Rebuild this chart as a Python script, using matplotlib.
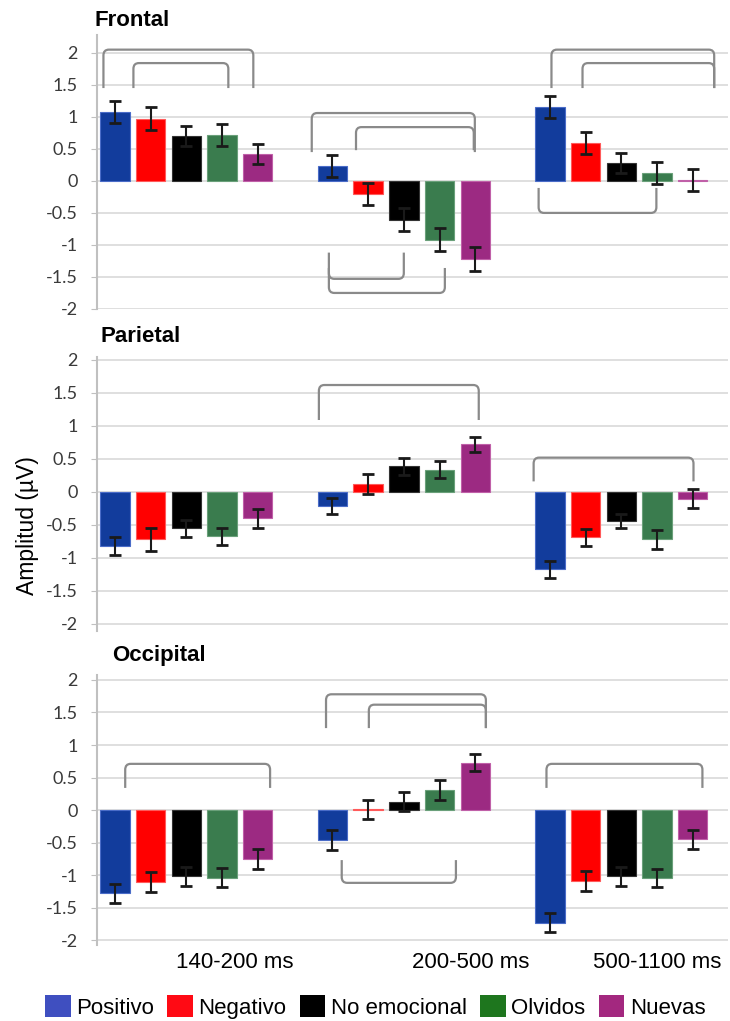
import matplotlib
matplotlib.use('Agg')
import matplotlib.pyplot as plt
import numpy as np
from matplotlib.patches import Patch, PathPatch
from matplotlib.path import Path

plt.rcParams['font.family'] = ['Liberation Sans', 'DejaVu Sans']

# Ventanas temporales y condiciones
ventanas = ['140-200 ms', '200-500 ms', '500-1100 ms']
condiciones = ['Positivo', 'Negativo', 'No emocional', 'Olvidos', 'Nuevas']
regiones = ['Frontal', 'Parietal', 'Occipital']

# Amplitud media (µV): una fila por condición, una columna por ventana
frontal = [[1.08, 0.23, 1.16],
           [0.97, -0.21, 0.59],
           [0.70, -0.61, 0.28],
           [0.72, -0.92, 0.12],
           [0.42, -1.22, 0.02]]
frontal_err = [[0.17, 0.17, 0.17],
               [0.18, 0.17, 0.17],
               [0.16, 0.18, 0.16],
               [0.17, 0.18, 0.17],
               [0.15, 0.19, 0.17]]

parietal = [[-0.82, -0.21, -1.17],
            [-0.72, 0.12, -0.69],
            [-0.55, 0.39, -0.44],
            [-0.67, 0.34, -0.72],
            [-0.40, 0.72, -0.10]]
parietal_err = [[0.14, 0.12, 0.13],
                [0.17, 0.15, 0.13],
                [0.13, 0.13, 0.11],
                [0.13, 0.13, 0.14],
                [0.14, 0.12, 0.14]]

occipital = [[-1.28, -0.46, -1.73],
             [-1.11, 0.01, -1.09],
             [-1.02, 0.13, -1.02],
             [-1.04, 0.31, -1.05],
             [-0.75, 0.73, -0.45]]
occipital_err = [[0.15, 0.15, 0.15],
                 [0.15, 0.15, 0.15],
                 [0.15, 0.15, 0.15],
                 [0.15, 0.15, 0.14],
                 [0.15, 0.13, 0.15]]

# Corchetes de significación: (ventana, barra inicio, barra fin, y línea, y patas)
corchetes_frontal = [(0, -0.32, 3.88, 2.05, 1.45),
                     (0, 0.52, 3.18, 1.84, 1.45),
                     (1, -0.58, 3.99, 1.06, 0.45),
                     (1, 0.66, 3.96, 0.84, 0.48),
                     (1, -0.10, 2.00, -1.53, -1.12),
                     (1, -0.10, 3.15, -1.75, -1.36),
                     (2, 0.04, 4.60, 2.05, 1.45),
                     (2, 0.91, 4.60, 1.84, 1.45),
                     (2, -0.32, 2.98, -0.50, -0.11)]
corchetes_parietal = [(1, -0.38, 4.10, 1.62, 1.09),
                      (2, -0.46, 4.02, 0.52, 0.16)]
corchetes_occipital = [(0, 0.29, 4.35, 0.71, 0.34),
                       (1, -0.18, 4.30, 1.78, 1.26),
                       (1, 1.02, 4.30, 1.62, 1.26),
                       (1, 0.26, 3.46, -1.12, -0.77),
                       (2, -0.10, 4.27, 0.71, 0.34)]

colores = ['#123c9c', '#ff0000', '#000000', '#3a7c4e', '#9c2a82']
bordes = ['#4a6cc8', '#ff5a5a', '#333333', '#6aa07a', '#c060a8']
colores_leyenda = ['#3f4fc0', '#ff0a14', '#000000', '#1e761e', '#a3287f']

paso = 0.164
ancho = 0.135


def corchete(ax, g, k0, k1, y_lin, y_pata):
    x0 = g + (k0 - 2) * paso
    x1 = g + (k1 - 2) * paso
    dx = 0.025
    dy = 0.09 * np.sign(y_lin - y_pata)
    verts = [(x0, y_pata), (x0, y_lin - dy), (x0, y_lin), (x0 + dx, y_lin),
             (x1 - dx, y_lin), (x1, y_lin), (x1, y_lin - dy), (x1, y_pata)]
    codes = [Path.MOVETO, Path.LINETO, Path.CURVE3, Path.CURVE3,
             Path.LINETO, Path.CURVE3, Path.CURVE3, Path.LINETO]
    ax.add_patch(PathPatch(Path(verts, codes), fill=False, edgecolor='#8a8a8a',
                           lw=1.6, clip_on=False, zorder=4))


fig = plt.figure(figsize=(7.3, 10.21), dpi=100)

# posiciones de los paneles (izq, abajo, ancho, alto) y límites y
paneles = [(0.1329, 0.6974, 0.8644, 0.2684),
           (0.1329, 0.3824, 0.8644, 0.2683),
           (0.1329, 0.0748, 0.8644, 0.2643)]
limites = [(-2.0, 2.28), (-2.1, 2.05), (-2.07, 2.08)]
titulos_y = [0.980, 0.670, 0.358]
titulos_x = [0.130, 0.137, 0.153]

datos = [(frontal, frontal_err, corchetes_frontal),
         (parietal, parietal_err, corchetes_parietal),
         (occipital, occipital_err, corchetes_occipital)]

x = np.arange(len(ventanas))
for r, (vals, errs, corch) in enumerate(datos):
    ax = fig.add_axes(paneles[r])
    for i in range(len(condiciones)):
        ax.bar(x + (i - 2) * paso, vals[i], width=ancho, color=colores[i],
               edgecolor=bordes[i], linewidth=0.8, zorder=3)
        ax.errorbar(x + (i - 2) * paso, vals[i], yerr=errs[i], fmt='none',
                    ecolor='#1a1a1a', elinewidth=1.5, capsize=4, capthick=2, zorder=5)
    for c in corch:
        corchete(ax, *c)
    ax.set_xlim(-0.41, 2.49)
    ax.set_ylim(*limites[r])
    ax.set_yticks(np.arange(-2, 2.01, 0.5))
    ax.set_yticklabels(['-2', '-1.5', '-1', '-0.5', '0', '0.5', '1', '1.5', '2'],
                       fontfamily='Lato')
    ax.yaxis.grid(True, color='#d9d9d9', lw=1.2)
    ax.set_axisbelow(True)
    for s in ['top', 'right', 'bottom']:
        ax.spines[s].set_visible(False)
    ax.spines['left'].set_color('#c0c0c0')
    ax.spines['left'].set_linewidth(1.5)
    ax.tick_params(axis='y', length=4, color='#c0c0c0', labelsize=13,
                   labelcolor='#3a3a3a', pad=10)
    if r < 2:
        ax.set_xticks([])
    else:
        ax.set_xticks(x + np.array([0.224, 0.309, 0.164]))
        ax.set_xticklabels(ventanas, fontsize=16)
        ax.tick_params(axis='x', length=0, pad=5)
    fig.text(titulos_x[r], titulos_y[r], regiones[r], fontsize=16,
             fontweight='bold', va='center', ha='left')

fig.text(0.037, 0.485, 'Amplitud (µV)', rotation=90, fontsize=16.5,
         va='center', ha='center')

handles = [Patch(facecolor=c) for c in colores_leyenda]
fig.legend(handles, condiciones, loc='center', bbox_to_anchor=(0.514, 0.0135),
           ncol=5, frameon=False, fontsize=16, handlelength=1.15, handleheight=1.15,
           handletextpad=0.25, columnspacing=0.6, borderpad=0, borderaxespad=0)

fig.savefig('out.png', dpi=100)
